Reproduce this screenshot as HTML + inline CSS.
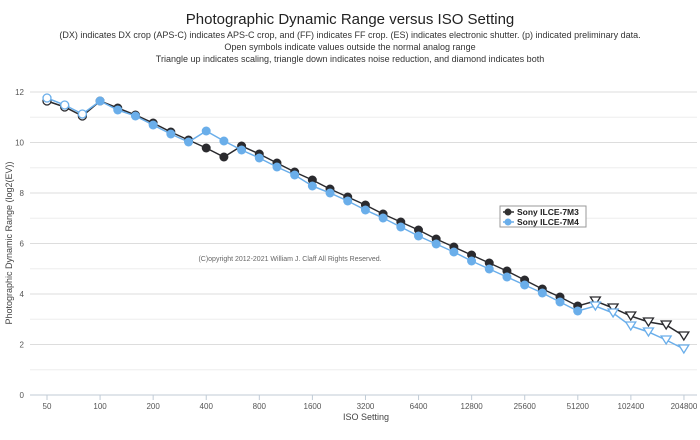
<!DOCTYPE html><html><head><style>body{margin:0;background:#fff;width:700px;height:435px;overflow:hidden;font-family:"Liberation Sans",sans-serif}</style></head><body>
<svg id="s" width="700" height="435" xmlns="http://www.w3.org/2000/svg" font-family="Liberation Sans, sans-serif">
<text x="350" y="24" text-anchor="middle" font-size="15" fill="#222">Photographic Dynamic Range versus ISO Setting</text>
<text x="350" y="38" text-anchor="middle" font-size="9" fill="#333">(DX) indicates DX crop (APS-C) indicates APS-C crop, and (FF) indicates FF crop. (ES) indicates electronic shutter. (p) indicated preliminary data.</text>
<text x="350" y="50" text-anchor="middle" font-size="9" fill="#333">Open symbols indicate values outside the normal analog range</text>
<text x="350" y="62" text-anchor="middle" font-size="9" fill="#333">Triangle up indicates scaling, triangle down indicates noise reduction, and diamond indicates both</text>
<g id="grid"></g>
<text x="290" y="261" text-anchor="middle" font-size="7" fill="#666">(C)opyright 2012-2021 William J. Claff All Rights Reserved.</text>
<text transform="translate(12,243) rotate(-90)" text-anchor="middle" font-size="9" fill="#444">Photographic Dynamic Range (log2(EV))</text>
<text x="366" y="420" text-anchor="middle" font-size="9" fill="#444">ISO Setting</text>
<g id="d"></g>
<rect x="500" y="206" width="86" height="21" fill="#fff" stroke="#999" stroke-width="1"/>
<circle cx="508" cy="212" r="3.5" fill="#333"/><line x1="503" y1="212" x2="514" y2="212" stroke="#333" stroke-width="1.5"/>
<circle cx="508" cy="222" r="3.5" fill="#6aaeea"/><line x1="503" y1="222" x2="514" y2="222" stroke="#6aaeea" stroke-width="1.5"/>
<text x="517" y="215" font-size="8.5" font-weight="bold" fill="#222">Sony ILCE-7M3</text>
<text x="517" y="225" font-size="8.5" font-weight="bold" fill="#222">Sony ILCE-7M4</text>
</svg>
<script>
var ns="http://www.w3.org/2000/svg",g=document.getElementById('grid'),d=document.getElementById('d');
function el(p,t,a,tx){var e=document.createElementNS(ns,t);for(var k in a)e.setAttribute(k,a[k]);if(tx)e.textContent=tx;p.appendChild(e);return e;}
for(var v=0;v<=12;v++){var y=395-v*25.25;el(g,'line',{x1:30,x2:697,y1:y,y2:y,stroke:v==0?'#c0cbd6':(v%2?'#eee':'#ddd'),'stroke-width':1});if(v%2==0)el(g,'text',{x:24,y:y+3,'text-anchor':'end','font-size':8,fill:'#555'},''+v);}
var labs=['50','100','200','400','800','1600','3200','6400','12800','25600','51200','102400','204800'];
labs.forEach(function(l,i){var x=47+i*53.08;el(g,'line',{x1:x,x2:x,y1:395,y2:400,stroke:'#c0cbd6'});el(g,'text',{x:x,y:409,'text-anchor':'middle','font-size':8,fill:'#555'},l);});
var A=[101,107,116,101,108,115,123,132,140,148,157,146,154,163,172,180,189,197,205,214,222,230,239,247,255,263,271,280,289,297,306,301,308,316,322,325,336];
var B=[98,105,114,101,110,116,125,134,142,131,141,150,158,167,175,186,193,201,210,218,227,236,244,252,261,269,277,285,293,302,311,306,313,326,332,340,349];
function ser(Y,c){var pts=Y.map(function(y,i){return (47+i*17.69)+','+y}).join(' ');el(d,'polyline',{points:pts,fill:'none',stroke:c,'stroke-width':1.5});
Y.forEach(function(y,i){var x=47+i*17.69;if(i>=31){el(d,'polygon',{points:(x-5)+','+(y-4)+' '+(x+5)+','+(y-4)+' '+x+','+(y+4),fill:'#fff',stroke:c,'stroke-width':1.3});}else if(i<3){el(d,'circle',{cx:x,cy:y,r:4,fill:'#fff',stroke:c,'stroke-width':1.3});}else el(d,'circle',{cx:x,cy:y,r:4.5,fill:c});});}
ser(A,'#2a2a2e');ser(B,'#6aaeea');
</script>
</body></html>
